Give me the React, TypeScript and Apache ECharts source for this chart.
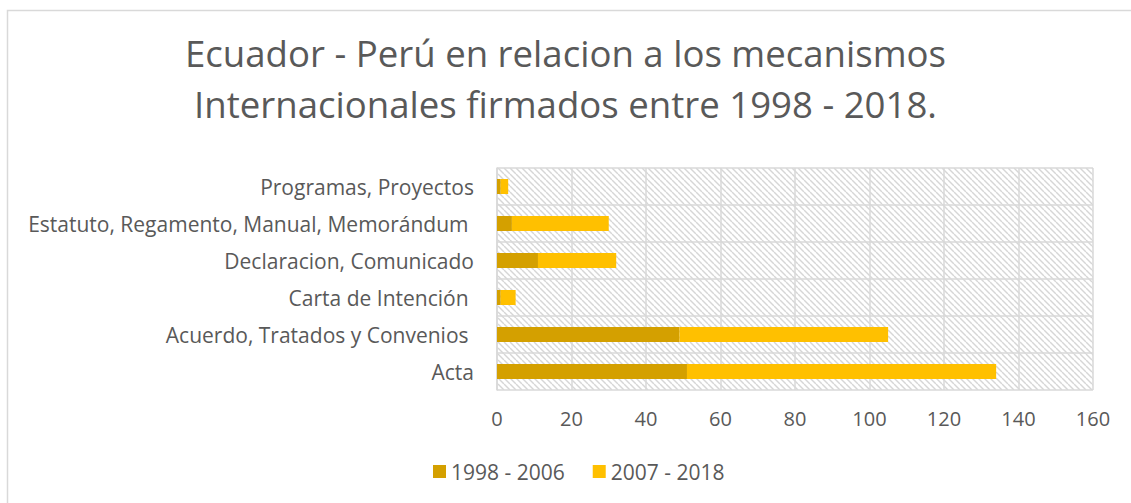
import React, { useEffect, useRef } from "react";
import * as echarts from "echarts";

const categories = [
  "Acta",
  "Acuerdo, Tratados y Convenios ",
  "Carta de Intención ",
  "Declaracion, Comunicado",
  "Estatuto, Regamento, Manual, Memorándum ",
  "Programas, Proyectos",
];
const series1Name = "1998 - 2006";
const series2Name = "2007 - 2018";
const values1998 = [51, 49, 1, 11, 4, 1];
const values2007 = [83, 56, 4, 21, 26, 2];
const xTicks = { min: 0, max: 160, interval: 20 };
const titleLines = [
  "Ecuador - Perú en relacion a los mecanismos",
  "Internacionales firmados entre 1998 - 2018.",
];

function makeHatch(): HTMLCanvasElement {
  const c = document.createElement("canvas");
  const s = 6;
  c.width = s;
  c.height = s;
  const ctx = c.getContext("2d")!;
  ctx.fillStyle = "#ffffff";
  ctx.fillRect(0, 0, s, s);
  ctx.strokeStyle = "#d6d6d6";
  ctx.lineWidth = 1.4;
  for (const k of [-s, 0, s]) {
    ctx.beginPath();
    ctx.moveTo(k, 0);
    ctx.lineTo(k + s, s);
    ctx.stroke();
  }
  return c;
}

export default function App() {
  const ref = useRef<HTMLDivElement>(null);
  useEffect(() => {
    if (!ref.current) return;
    const chart = echarts.init(ref.current, undefined, { renderer: "svg" });
    const font = "'Open Sans', sans-serif";
    const hatch = makeHatch();
    chart.setOption({
      animation: false,
      backgroundColor: "#ffffff",
      title: {
        text: titleLines.join("\n"),
        left: "center",
        top: 22,
        textStyle: {
          fontFamily: font,
          fontSize: 36.6,
          fontWeight: "normal",
          color: "#595959",
          lineHeight: 51,
        },
      },
      graphic: [
        {
          type: "rect",
          shape: { x: 7.5, y: 10.5, width: 1200, height: 600 },
          style: { fill: "none", stroke: "#d9d9d9", lineWidth: 1.5 },
          silent: true,
          z: -10,
        },
      ],
      legend: {
        left: 428,
        top: 456,
        itemWidth: 13,
        itemHeight: 13,
        itemGap: 28,
        icon: "rect",
        textStyle: { fontFamily: font, fontSize: 21, color: "#595959" },
        data: [series1Name, series2Name],
      },
      grid: {
        left: 497,
        right: 38,
        top: 168,
        bottom: 113,
        show: true,
        backgroundColor: { image: hatch, repeat: "repeat" },
        borderWidth: 0,
        containLabel: false,
      },
      xAxis: {
        type: "value",
        min: xTicks.min,
        max: xTicks.max,
        interval: xTicks.interval,
        axisLine: { show: false },
        axisTick: { show: false },
        axisLabel: {
          fontFamily: font,
          fontSize: 20,
          color: "#595959",
          margin: 18,
        },
        splitLine: { show: true, lineStyle: { color: "#d9d9d9", width: 1.5 } },
      },
      yAxis: {
        type: "category",
        data: categories,
        axisLine: { show: true, lineStyle: { color: "#d9d9d9", width: 1.5 } },
        axisTick: { show: false },
        axisLabel: {
          fontFamily: font,
          fontSize: 21,
          color: "#595959",
          margin: 23,
        },
        splitLine: { show: true, lineStyle: { color: "#d9d9d9", width: 1.5 } },
      },
      series: [
        {
          name: series1Name,
          type: "bar",
          stack: "total",
          data: values1998,
          barWidth: 15,
          itemStyle: { color: "#D4A000" },
        },
        {
          name: series2Name,
          type: "bar",
          stack: "total",
          data: values2007,
          barWidth: 15,
          itemStyle: { color: "#FFC000" },
        },
      ],
    });
    return () => chart.dispose();
  }, []);
  return (
    <div
      ref={ref}
      style={{ position: "fixed", left: 0, top: 0, width: 1131, height: 503 }}
    />
  );
}
